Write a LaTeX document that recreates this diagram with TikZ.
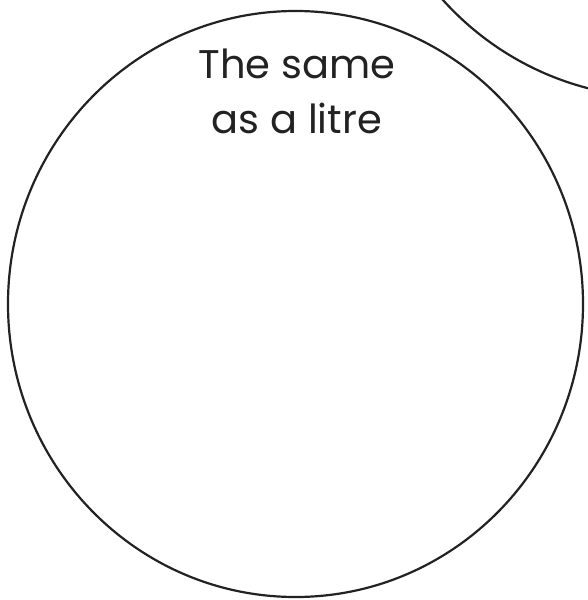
\documentclass[tikz,border=0pt]{standalone}
\usepackage{fontspec}
\setmainfont{Poppins}
\definecolor{ink}{HTML}{222222}
\begin{document}
\begin{tikzpicture}[x=1pt,y=-1pt,
  ring/.style={draw=ink,line width=2.2pt},
  label/.style={text=ink,align=center,font=\fontsize{40}{55}\selectfont,inner sep=0pt}]
\useasboundingbox (0,0) rectangle (588,600);
\begin{scope}
\clip (0,0) rectangle (588,600);
\draw[ring] (662,-197) circle [radius=294.6];
\end{scope}
\draw[ring] (295.5,304) ellipse [x radius=287.5, y radius=293];
\node[label,anchor=base] (t) at (297,133) {The same\\as a litre};
\end{tikzpicture}
\end{document}
